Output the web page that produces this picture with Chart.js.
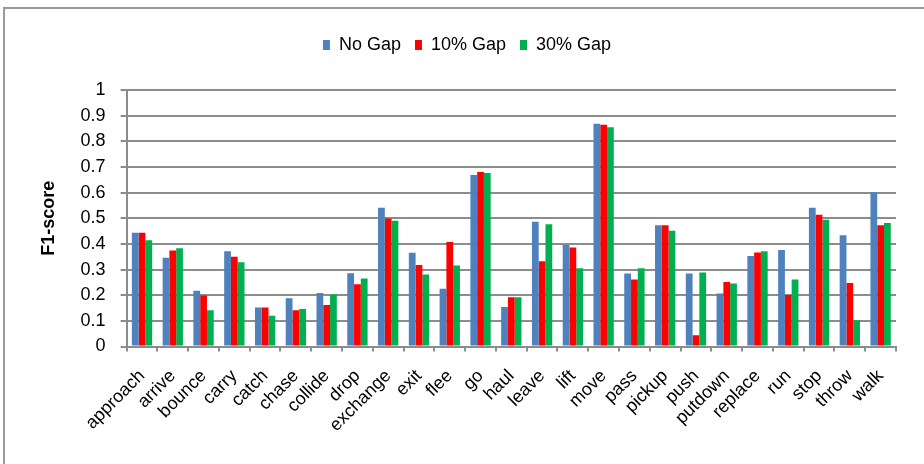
<!DOCTYPE html>
<html lang="en">
<head>
    <meta charset="UTF-8">
    <title>F1-score by Verb</title>
    <script src="https://cdn.jsdelivr.net/npm/chart.js"></script>
    <style>
        html, body { margin: 0; padding: 0; background: #fff; overflow: hidden; }
        .frame {
            position: absolute;
            left: 3px; top: 7px;
            width: 960px; height: 500px;
            border-top: 2px solid #9a9a9a;
            border-left: 2px solid #9a9a9a;
        }
        .chart-container {
            position: absolute;
            left: 0; top: 0;
            width: 924px; height: 464px;
        }
    </style>
</head>
<body>
    <div class="frame"></div>
    <div class="chart-container">
        <canvas id="f1Chart"></canvas>
    </div>

    <script>
        const verbs = ["approach", "arrive", "bounce", "carry", "catch", "chase", "collide", "drop",
            "exchange", "exit", "flee", "go", "haul", "leave", "lift", "move", "pass", "pickup",
            "push", "putdown", "replace", "run", "stop", "throw", "walk"];

        const noGap = [0.444, 0.346, 0.217, 0.371, 0.152, 0.188, 0.209, 0.286,
            0.541, 0.366, 0.225, 0.669, 0.154, 0.486, 0.396, 0.868, 0.285, 0.473,
            0.285, 0.207, 0.353, 0.376, 0.541, 0.434, 0.601];
        const gap10 = [0.444, 0.374, 0.199, 0.350, 0.152, 0.141, 0.162, 0.243,
            0.499, 0.318, 0.407, 0.680, 0.192, 0.332, 0.386, 0.865, 0.261, 0.473,
            0.044, 0.252, 0.367, 0.201, 0.514, 0.248, 0.473];
        const gap30 = [0.414, 0.383, 0.141, 0.329, 0.120, 0.146, 0.203, 0.265,
            0.490, 0.281, 0.316, 0.676, 0.192, 0.477, 0.305, 0.855, 0.305, 0.451,
            0.289, 0.246, 0.371, 0.261, 0.494, 0.102, 0.482];

        const seriesNames = ["No Gap", "10% Gap", "30% Gap"];
        const seriesColors = ["#4f81bd", "#ff0000", "#00b050"];

        const gridGray = "#8c8c8c";
        Chart.defaults.font.family = "'Liberation Sans', Arial, sans-serif";
        Chart.defaults.color = "#000";

        // push the plot area down a bit below the legend
        const legendGap = {
            id: 'legendGap',
            beforeInit(chart) {
                const origFit = chart.legend.fit;
                chart.legend.fit = function () {
                    origFit.bind(chart.legend)();
                    this.height += 26;
                };
            }
        };

        const ctx = document.getElementById("f1Chart").getContext("2d");
        const f1Chart = new Chart(ctx, {
            type: 'bar',
            data: {
                labels: verbs,
                datasets: [noGap, gap10, gap30].map((vals, i) => ({
                    label: seriesNames[i],
                    data: vals,
                    backgroundColor: seriesColors[i],
                    borderWidth: 0,
                    barPercentage: 1.0,
                    categoryPercentage: 0.66
                }))
            },
            options: {
                responsive: true,
                maintainAspectRatio: false,
                animation: false,
                layout: {
                    padding: { left: 38, right: 28, top: 22, bottom: 14 }
                },
                plugins: {
                    legend: {
                        position: 'top',
                        labels: {
                            boxWidth: 7,
                            boxHeight: 10,
                            padding: 14,
                            font: { size: 18 }
                        }
                    },
                    tooltip: { enabled: false }
                },
                scales: {
                    x: {
                        grid: {
                            offset: true,
                            drawOnChartArea: false,
                            drawTicks: true,
                            tickLength: 5,
                            color: gridGray,
                            lineWidth: 2
                        },
                        border: { color: gridGray, width: 2 },
                        ticks: {
                            minRotation: 45,
                            maxRotation: 45,
                            autoSkip: false,
                            padding: 14,
                            font: { size: 18 }
                        }
                    },
                    y: {
                        min: 0,
                        max: 1,
                        ticks: {
                            stepSize: 0.1,
                            autoSkip: false,
                            padding: 15,
                            font: { size: 18 },
                            callback: v => Math.round(v * 10) / 10
                        },
                        grid: {
                            color: gridGray,
                            lineWidth: 2,
                            tickLength: 6
                        },
                        border: { color: gridGray, width: 2 },
                        title: {
                            display: true,
                            text: "F1-score",
                            font: { size: 18, weight: 'bold' },
                            padding: { top: 0, bottom: 6 }
                        }
                    }
                }
            },
            plugins: [legendGap]
        });
    </script>
</body>
</html>
